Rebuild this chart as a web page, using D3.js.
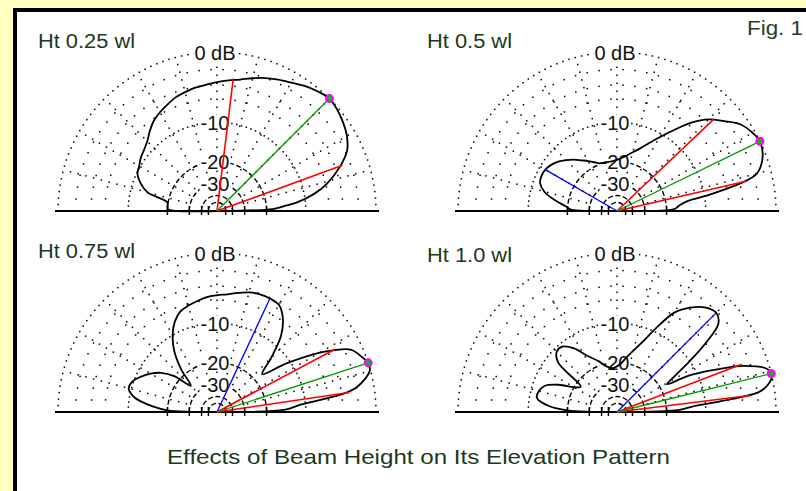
<!DOCTYPE html>
<html>
<head>
<meta charset="utf-8">
<script src="https://cdn.jsdelivr.net/npm/d3@7"></script>
<style>
body { margin: 0; background: #ffffc0; }
svg { display: block; }
text { font-family: "Liberation Sans", Arial, sans-serif; }
</style>
</head>
<body>
<div id="chart"></div>
<script>
// elevation angle (deg) and relative gain (dB)
const plotNames = ["Ht 0.25 wl", "Ht 0.5 wl", "Ht 0.75 wl", "Ht 1.0 wl"];

const elev025 = [0, 2, 4, 6, 10, 14, 20, 25, 30, 35, 40, 45, 50, 55, 60, 65, 70, 75, 80, 85, 90, 95, 100, 105, 110, 115, 120, 125, 130, 135, 140, 145, 150, 155, 160, 165, 170, 175, 178, 180];
const gain025 = [-99, -18, -15, -11.8, -8.2, -5.8, -3.3, -1.75, -1.0, -0.55, -0.2, 0, -0.3, -0.7, -1.2, -1.6, -2.0, -2.5, -3.0, -3.3, -3.6, -3.9, -4.1, -4.4, -4.7, -5.2, -5.7, -6.3, -7.2, -8.2, -8.8, -9.2, -9.8, -10.2, -11.5, -13.6, -19.7, -20, -20.2, -99];

const elev05 = [0, 2, 5, 8, 10, 13, 15, 20, 26, 30, 35, 40, 45, 50, 55, 60, 65, 70, 75, 80, 85, 90, 95, 100, 105, 110, 115, 120, 125, 130, 135, 140, 145, 150, 155, 160, 165, 170, 175, 178, 180];
const gain05 = [-99, -17.5, -16, -13.8, -9, -3.4, -1.6, -0.45, 0, -0.27, -0.9, -2.2, -3.5, -5.5, -8.2, -10.7, -13, -15, -16.5, -17.8, -18.8, -19.5, -19.8, -19.9, -19.8, -19.6, -18.6, -17.4, -16.2, -14.8, -13.6, -12.5, -11.7, -11.2, -11.1, -11.4, -12.8, -15.8, -19.5, -21, -99];

const elev075 = [0, 2, 5, 8, 10, 15, 18, 20, 25, 28, 30, 35, 40, 45, 50, 55, 60, 65, 70, 75, 80, 85, 90, 95, 100, 105, 110, 115, 120, 125, 130, 135, 140, 145, 150, 155, 160, 165, 170, 175, 178, 180];
const gain075 = [-99, -14.5, -11, -4.2, -2, -0.1, 0, -0.3, -1.3, -3.3, -5, -10.8, -17, -12.5, -8, -5.6, -4.3, -4.1, -4.1, -4.3, -4.7, -5.1, -5.3, -5.5, -5.9, -6.3, -6.8, -8.0, -10, -13, -18, -25, -18, -14.5, -12.5, -11, -9.8, -9.5, -11, -15.5, -20, -99];

const elev10 = [0, 2, 4, 6, 8, 10, 13, 16, 20, 24, 27, 29, 32, 35, 38, 41, 45, 50, 55, 60, 65, 70, 75, 80, 86, 95, 103, 110, 118, 124, 130, 135, 140, 145, 150, 155, 160, 165, 170, 175, 178, 180];
const gain10 = [-99, -16, -13, -7, -1.8, -0.7, 0, -0.3, -2.8, -7.7, -12, -17.5, -14.5, -10, -5.8, -2.9, -2.15, -2.6, -3.8, -5.6, -9.3, -13, -15.7, -18, -20.5, -22, -21, -18.5, -15.7, -12.5, -10.7, -10.7, -12.5, -22, -20, -15.5, -12.5, -11.6, -11.5, -14.5, -20, -99];

const maxAngle = [45, 26, 18, 14];
const halfLow = [20, 13, 8.4, 7.1];
const halfHigh = [83, 43.5, 28, 21];
const lobeAngle = [null, 150, 65, 45];
const lobeGain = [null, -11.2, -4.1, -2.2];

const ringDb = [0, -10, -20, -30];
const ringText = ["0 dB", "-10", "-20", "-30"];
const dotRings = [0, -2, -4, -6, -10];
const dashRings = [-20, -30, -40, -50];
const spokes = d3.range(15, 180, 15);

const patterns = [
  elev025.map((e, i) => [e, gain025[i]]),
  elev05.map((e, i) => [e, gain05[i]]),
  elev075.map((e, i) => [e, gain075[i]]),
  elev10.map((e, i) => [e, gain10[i]])
];

const W = 806, H = 491;
const R = 159;
const centers = [[217, 211], [617, 211], [217, 412], [617, 412]];
const namePos = [[38, 48], [427, 48], [38, 258], [427, 262]];
const nameWidth = [97, 85, 97, 85];

// ARRL log scale: 0.89 per 2 dB, written as a power scale of the power ratio
const rScale = d3.scalePow().exponent(0.25305).domain([0, 1]).range([0, R]);
const radius = dB => rScale(Math.pow(10, dB / 10));
const angle = d3.scaleLinear().domain([0, 180]).range([Math.PI / 2, -Math.PI / 2]);

const svg = d3.select("#chart").append("svg")
    .attr("width", W)
    .attr("height", H);

svg.append("rect").attr("width", W).attr("height", H).attr("fill", "#ffffc0");
svg.append("rect").attr("x", 13).attr("y", 8).attr("width", 820).attr("height", 520).attr("fill", "#000");
svg.append("rect").attr("x", 17).attr("y", 12).attr("width", 820).attr("height", 520).attr("fill", "#fff");

function arcPath(r){
    const p = d3.path();
    p.arc(0, 0, r, Math.PI, 2 * Math.PI);
    return p.toString();
}

function dot(g, p){
    g.append("rect")
        .attr("x", p[0] - 0.75).attr("y", p[1] - 0.75)
        .attr("width", 1.5).attr("height", 1.5)
        .attr("fill", "#000");
}

function drawPlot(k){
    const g = svg.append("g")
        .attr("transform", `translate(${centers[k][0]},${centers[k][1]})`);

    // dotted spokes
    spokes.forEach(a => {
        for (let r = radius(-30) + 4; r < R - 3; r += 8){
            dot(g, d3.pointRadial(angle(a), r));
        }
    });

    // dotted rings
    dotRings.forEach(d => {
        const r = radius(d);
        const step = d == 0 ? 6.5 : (d == -10 ? 5 : 12);
        const n = Math.round(Math.PI * r / step);
        for (let i = 0; i <= n; i++){
            dot(g, d3.pointRadial(angle(180 * i / n), r));
        }
    });

    // dashed inner rings
    dashRings.forEach(d => {
        g.append("path")
            .attr("d", arcPath(radius(d)))
            .attr("fill", "none")
            .attr("stroke", "#000")
            .attr("stroke-width", 1.4)
            .attr("stroke-dasharray", "5 2.5");
        [-1, 1].forEach(s => {
            g.append("line")
                .attr("x1", s * radius(d)).attr("x2", s * radius(d))
                .attr("y1", -5).attr("y2", 4)
                .attr("stroke", "#000")
                .attr("stroke-width", 1.4);
        });
    });

    // ring labels
    ringDb.forEach((d, i) => {
        const y = -radius(d) + 7.5;
        const t = g.append("text")
            .attr("x", -2)
            .attr("y", y)
            .attr("text-anchor", "middle")
            .attr("font-size", 20)
            .attr("fill", "#111")
            .text(ringText[i]);
        const b = t.node().getBBox();
        g.insert("rect", "text")
            .attr("x", b.x - 1).attr("y", y - 15)
            .attr("width", b.width + 2).attr("height", 16)
            .attr("fill", "#fff");
    });

    // ground line
    g.append("line")
        .attr("x1", -R - 3).attr("x2", R + 3)
        .attr("y1", 0).attr("y2", 0)
        .attr("stroke", "#000")
        .attr("stroke-width", 2);

    // pattern
    const line = d3.lineRadial()
        .angle(d => angle(d[0]))
        .radius(d => radius(d[1]))
        .curve(d3.curveCatmullRom.alpha(0.5));

    g.append("path")
        .datum(patterns[k])
        .attr("d", line)
        .attr("fill", "none")
        .attr("stroke", "#000")
        .attr("stroke-width", 1.8);

    function ray(a, dB, color, w){
        const p = d3.pointRadial(angle(a), radius(dB));
        g.append("line")
            .attr("x1", 0).attr("y1", 0)
            .attr("x2", p[0]).attr("y2", p[1])
            .attr("stroke", color)
            .attr("stroke-width", w);
        return p;
    }

    ray(halfLow[k], -3, "#ff0000", 1.6);
    ray(halfHigh[k], -3, "#ff0000", 1.6);
    if (lobeAngle[k] != null) ray(lobeAngle[k], lobeGain[k], "#0000ff", 1.3);
    const m = ray(maxAngle[k], 0, "#009a00", 1.3);

    g.append("circle")
        .attr("cx", m[0]).attr("cy", m[1])
        .attr("r", 3.5)
        .attr("fill", "#00c000")
        .attr("stroke", "#ff00ff")
        .attr("stroke-width", 2);

    svg.append("text")
        .attr("x", namePos[k][0])
        .attr("y", namePos[k][1])
        .attr("font-size", 20)
        .attr("fill", "#203820")
        .attr("textLength", nameWidth[k])
        .attr("lengthAdjust", "spacingAndGlyphs")
        .text(plotNames[k]);
}

d3.range(4).forEach(drawPlot);

svg.append("text")
    .attr("x", 747).attr("y", 35)
    .attr("font-size", 20)
    .attr("fill", "#2c3a2c")
    .attr("textLength", 56)
    .attr("lengthAdjust", "spacingAndGlyphs")
    .text("Fig. 1");

svg.append("text")
    .attr("x", 167).attr("y", 464)
    .attr("font-size", 21)
    .attr("fill", "#203820")
    .attr("textLength", 503)
    .attr("lengthAdjust", "spacingAndGlyphs")
    .text("Effects of Beam Height on Its Elevation Pattern");
</script>
</body>
</html>
